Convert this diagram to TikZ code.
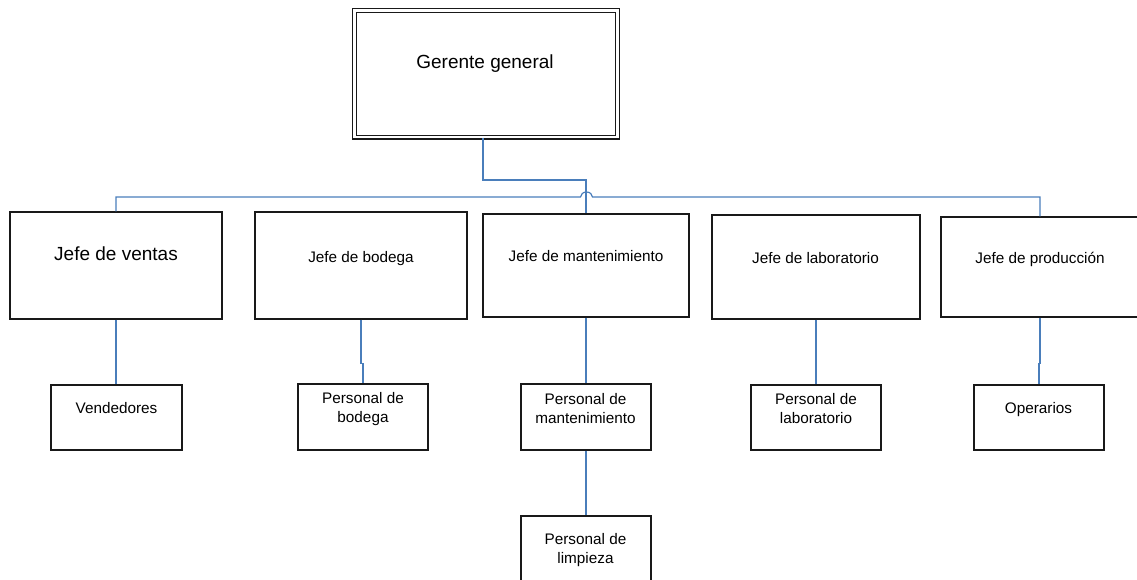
\documentclass[tikz,border=0pt]{standalone}
\usepackage{fontspec}
\setmainfont{Liberation Sans}
\definecolor{linkblue}{RGB}{74,126,187}
\begin{document}
\begin{tikzpicture}[x=1pt,y=-1pt,
  box/.style={draw=black!90,line width=1.2pt,rectangle,inner sep=0pt,fill=white},
  topbox/.style={draw=black!90,line width=1.2pt,double=white,double distance=2.6pt,rectangle,inner sep=0pt,fill=white},
  big/.style={anchor=base,inner sep=0pt,font=\fontsize{19}{23}\selectfont},
  small/.style={anchor=base,inner sep=0pt,align=center,font=\fontsize{15.3}{19}\selectfont},
  conn/.style={draw=linkblue,line width=1.2pt}]
\useasboundingbox (0,0) rectangle (1137,579);

% top level
\node[topbox,minimum width=262.6pt,minimum height=126.9pt] (gg) at (486,73.7) {};
\node[big] (ggt) at (485,68) {Gerente general};

% department heads
\node[box,minimum width=212pt,minimum height=107pt] (ventas) at (116,265.5) {};
\node[box,minimum width=212pt,minimum height=107pt] (bodega) at (361,265.5) {};
\node[box,minimum width=206pt,minimum height=103pt] (mant) at (586,265.5) {};
\node[box,minimum width=208pt,minimum height=104pt] (lab) at (816,267) {};
\node[box,minimum width=198pt,minimum height=100pt] (prod) at (1040,267) {};

\node[big] (ventast) at (116,260) {Jefe de ventas};
\node[small] (bodegat) at (361,262) {Jefe de bodega};
\node[small] (mantt) at (586,261) {Jefe de mantenimiento};
\node[small] (labt) at (815.5,263) {Jefe de laboratorio};
\node[small] (prodt) at (1040,263) {Jefe de producción};

% staff
\node[box,minimum width=131pt,minimum height=65pt] (vend) at (116.5,417.5) {};
\node[box,minimum width=130pt,minimum height=66pt] (pbod) at (363,417) {};
\node[box,minimum width=130pt,minimum height=66pt] (pmant) at (586,417) {};
\node[box,minimum width=130pt,minimum height=65pt] (plab) at (816,417.5) {};
\node[box,minimum width=130pt,minimum height=65pt] (oper) at (1039,417.5) {};
\node[box,minimum width=130pt,minimum height=66pt] (plimp) at (586,549) {};

% two-line labels are placed by the baseline of their last line
\node[small] (vendt) at (116.5,413) {Vendedores};
\node[small] (pbodt) at (363,422) {Personal de\\bodega};
\node[small] (pmantt) at (585.5,423) {Personal de\\mantenimiento};
\node[small] (plabt) at (816,423) {Personal de\\laboratorio};
\node[small] (opert) at (1038.5,413) {Operarios};
\node[small] (plimpt) at (585.5,563) {Personal de\\limpieza};

% connectors
\coordinate (elbow) at (586,180);
\draw[conn] ([xshift=-3pt]gg.south) |- (elbow) -- (mant.north);
\coordinate (hopL) at (580.5,197);
\draw[conn] (ventas.north) |- (hopL)
  arc[start angle=180,end angle=360,x radius=6,y radius=5]
  -| (prod.north);

\draw[conn] (ventas.south) -- (ventas.south |- vend.north);
\draw[conn] (bodega.south) -- ++(0,44) -- ++(2,0) -- (pbod.north);
\draw[conn] (mant.south) -- (pmant.north);
\draw[conn] (pmant.south) -- (plimp.north);
\draw[conn] (lab.south) -- (plab.north);
\draw[conn] (prod.south) -- ++(0,46) -- ++(-1,0) -- (oper.north);
\end{tikzpicture}
\end{document}
